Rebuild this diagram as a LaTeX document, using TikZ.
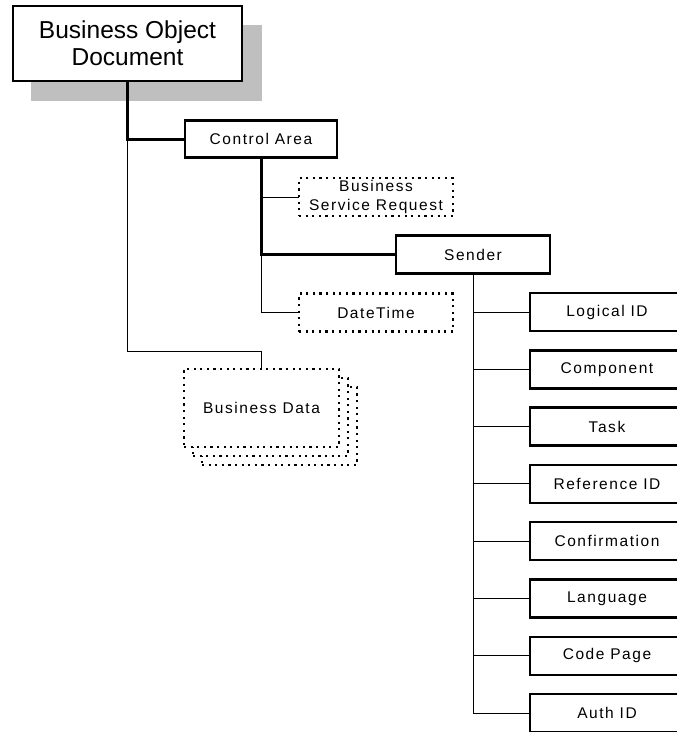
\documentclass[tikz,border=0pt]{standalone}
\usepackage{fontspec}
\setmainfont{Liberation Sans}
\usetikzlibrary{positioning}

\begin{document}
\begin{tikzpicture}[x=1pt, y=-1pt, every node/.style={font=\fontsize{15.5}{19.5}\selectfont\addfontfeature{LetterSpace=10}}]
    	\tikzstyle{blk}=[draw,line width=2.4pt,fill=white,minimum width=152pt,minimum height=37pt,inner sep=0pt,outer sep=0pt,align=center]
    	\tikzstyle{opt}=[draw,line width=2.2pt,dash pattern=on 2.2pt off 4.4pt,fill=white,minimum width=154pt,minimum height=38pt,inner sep=0pt,outer sep=0pt,align=center]
    	\tikzstyle{fld}=[blk,minimum width=154pt,minimum height=38pt]
    	\tikzstyle{trunk}=[line width=3pt]
    	\tikzstyle{twig}=[line width=1pt]
    \useasboundingbox (0,0) rectangle (677,732);
    % document and its shadow
    \fill[black!25] (31,25) rectangle (262,101);
    \node[blk,minimum width=229pt,minimum height=75pt,font=\fontsize{24.5}{27}\selectfont] (bod) at (127.5,43.5) {Business Object\\Document};
    % control area
    \node[blk] (ctrl) at (261,139) {Control Area};
    \node[opt] (bsr) at (376,197) {Business\\Service Request};
    \node[fld] (snd) at (473,254.5) {Sender};
    \node[opt] (dt) at (376,312.5) {DateTime};
    % business data (stacked)
    \node[opt,minimum width=155pt,minimum height=78pt] (bd3) at (279.5,426) {};
    \node[opt,minimum width=155pt,minimum height=78pt] (bd2) at (270.5,417) {};
    \node[opt,minimum width=155pt,minimum height=78pt] (bd) at (261.5,408) {Business Data};
    % sender fields
    \node[fld] (f1) at (607,312) {Logical ID};
    \node[fld,below=19.3pt of f1] (f2) {Component};
    \node[fld,below=19.3pt of f2] (f3) {Task};
    \node[fld,below=19.3pt of f3] (f4) {Reference ID};
    \node[fld,below=19.3pt of f4] (f5) {Confirmation};
    \node[fld,below=19.3pt of f5] (f6) {Language};
    \node[fld,below=19.3pt of f6] (f7) {Code Page};
    \node[fld,below=19.3pt of f7] (f8) {Auth ID};
    \draw[twig] (bod.south) |- ([yshift=18pt]bd.north) -- (bd.north);
    \draw[twig] (ctrl.south) |- (bsr.west);
    \draw[twig] (ctrl.south) |- (dt.west);
    \draw[trunk] (bod.south) |- (ctrl.west);
    \draw[trunk] (ctrl.south) |- (snd.west);
    \draw[twig] (snd.south) |- (f1.west);
    \draw[twig] (snd.south) |- (f2.west);
    \draw[twig] (snd.south) |- (f3.west);
    \draw[twig] (snd.south) |- (f4.west);
    \draw[twig] (snd.south) |- (f5.west);
    \draw[twig] (snd.south) |- (f6.west);
    \draw[twig] (snd.south) |- (f7.west);
    \draw[twig] (snd.south) |- (f8.west);
\end{tikzpicture}
\end{document}
